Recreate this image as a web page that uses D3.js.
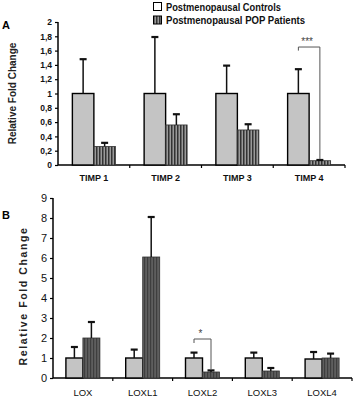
<!DOCTYPE html>
<html>
<head>
<meta charset="utf-8">
<script src="https://cdn.jsdelivr.net/npm/d3@7"></script>
<style>
  html, body { margin: 0; padding: 0; background: #fff; }
  svg { display: block; font-family: "Liberation Sans", Arial, sans-serif; }
</style>
</head>
<body>
<svg id="chart" width="357" height="411"></svg>
<script>
// panel A: TIMP expression
const timpLabels = ['TIMP 1', 'TIMP 2', 'TIMP 3', 'TIMP 4'];
const timpControl = [1, 1, 1, 1];
const timpControlErr = [0.48, 0.79, 0.39, 0.34];
const timpPatient = [0.26, 0.56, 0.49, 0.06];
const timpPatientErr = [0.05, 0.15, 0.08, 0.01];
const timpTicks = [0, 0.2, 0.4, 0.6, 0.8, 1, 1.2, 1.4, 1.6, 1.8, 2];

// panel B: LOX family expression
const loxLabels = ['LOX', 'LOXL1', 'LOXL2', 'LOXL3', 'LOXL4'];
const loxControl = [1, 1, 1, 1, 0.95];
const loxControlErr = [0.55, 0.42, 0.27, 0.27, 0.35];
const loxPatient = [2.0, 6.05, 0.3, 0.35, 1.0];
const loxPatientErr = [0.8, 2.0, 0.08, 0.15, 0.22];
const loxTicks = [0, 1, 2, 3, 4, 5, 6, 7, 8, 9];

const legendLabels = ['Postmenopausal Controls', 'Postmenopausal POP Patients'];

const svg = d3.select('#chart');
const defs = svg.append('defs');

function stripes(id, bg, fg, w) {
  const p = defs.append('pattern').attr('id', id).attr('patternUnits', 'userSpaceOnUse')
    .attr('width', 3).attr('height', 3);
  p.append('rect').attr('width', 3).attr('height', 3).attr('fill', bg);
  p.append('rect').attr('width', w).attr('height', 3).attr('fill', fg);
}
stripes('stripeA', '#9a9a9a', '#333', 1.5);
stripes('stripeB', '#5e5e5e', '#3e3e3e', 1.2);

function panel(cfg) {
  const x = d3.scaleBand().domain(cfg.labels).range([cfg.x0, cfg.x1]);
  const y = d3.scaleLinear().domain([0, cfg.max]).range([cfg.y0, cfg.y1]);
  const g = svg.append('g');
  const bw = cfg.barW;

  const yAxis = g.append('g').attr('transform', `translate(${cfg.x0},0)`)
    .call(d3.axisLeft(y).tickValues(cfg.ticks).tickSize(3).tickPadding(3)
      .tickFormat(d => String(d).replace('.', ',')));
  yAxis.select('.domain').attr('stroke-width', 1.5).attr('d', `M0,${cfg.y0}V${cfg.y1}`);
  yAxis.selectAll('.tick line').attr('stroke-width', 1.2);
  yAxis.selectAll('text').attr('font-size', cfg.tickSize).attr('font-weight', cfg.tickWeight).attr('fill', '#111');

  const xAxis = g.append('g').attr('transform', `translate(0,${cfg.y0})`)
    .call(d3.axisBottom(x).tickSize(0).tickPadding(cfg.xPad));
  xAxis.select('.domain').attr('stroke-width', 1.5).attr('d', `M${cfg.x0},0H${cfg.x1}`);
  xAxis.selectAll('text').attr('font-size', cfg.xSize).attr('font-weight', cfg.tickWeight).attr('fill', '#111');
  // separator ticks between groups
  g.selectAll('.sep').data(cfg.labels).enter().append('line')
    .attr('x1', d => x(d) + x.bandwidth()).attr('x2', d => x(d) + x.bandwidth())
    .attr('y1', cfg.y0).attr('y2', cfg.y0 + 3).attr('stroke', '#000').attr('stroke-width', 1.2);

  const series = [
    { vals: cfg.control, err: cfg.controlErr, fill: '#c4c4c4', stroke: '#000', off: -bw, sw: 1.4 },
    { vals: cfg.patient, err: cfg.patientErr, fill: cfg.patFill, stroke: '#333', off: 0, sw: 0.8 }
  ];
  series.forEach(s => {
    const cx = (d, i) => x(cfg.labels[i]) + x.bandwidth() / 2 + s.off;
    g.selectAll(null).data(s.vals).enter().append('rect')
      .attr('x', cx).attr('y', d => y(d)).attr('width', bw).attr('height', d => cfg.y0 - y(d))
      .attr('fill', s.fill).attr('stroke', s.stroke).attr('stroke-width', s.sw);
    const eg = g.selectAll(null).data(s.vals).enter().append('g');
    eg.append('line')
      .attr('x1', (d, i) => cx(d, i) + bw / 2).attr('x2', (d, i) => cx(d, i) + bw / 2)
      .attr('y1', d => y(d)).attr('y2', (d, i) => y(d + s.err[i]))
      .attr('stroke', '#111').attr('stroke-width', 1.5);
    eg.append('line')
      .attr('x1', (d, i) => cx(d, i) + bw / 2 - 3.5).attr('x2', (d, i) => cx(d, i) + bw / 2 + 3.5)
      .attr('y1', (d, i) => y(d + s.err[i])).attr('y2', (d, i) => y(d + s.err[i]))
      .attr('stroke', '#111').attr('stroke-width', 2.2);
  });

  // significance bracket
  const sig = cfg.sig;
  const lx = x(cfg.labels[sig.i]) + x.bandwidth() / 2 - bw / 2;
  const rx = lx + bw;
  g.append('path')
    .attr('d', `M${lx},${y(sig.left)}V${y(sig.top)}H${rx}V${y(sig.right)}`)
    .attr('fill', 'none').attr('stroke', '#555').attr('stroke-width', 1);
  g.append('text').attr('x', (lx + rx) / 2 - 2).attr('y', y(sig.top) - 2)
    .attr('text-anchor', 'middle').attr('font-size', 10).attr('fill', '#444').text(sig.mark);

  // y title
  g.append('text')
    .attr('transform', `translate(${cfg.titleX},${(cfg.y0 + cfg.y1) / 2 + cfg.titleDy}) rotate(-90)`)
    .attr('text-anchor', 'middle').attr('font-size', cfg.titleSize).attr('font-weight', 'bold')
    .attr('letter-spacing', cfg.titleSpacing).attr('fill', '#222').text('Relative Fold Change');

  g.append('text').attr('x', 2).attr('y', cfg.letterY).attr('font-size', 11)
    .attr('font-weight', 'bold').text(cfg.letter);
}

panel({
  labels: timpLabels, control: timpControl, controlErr: timpControlErr,
  patient: timpPatient, patientErr: timpPatientErr, ticks: timpTicks, max: 2,
  x0: 58, x1: 345, y0: 165, y1: 22, barW: 21.5, patFill: 'url(#stripeA)',
  tickSize: 8.5, tickWeight: 'bold', xSize: 9, xPad: 10,
  sig: { i: 3, left: 1.6, top: 1.65, right: 0.08, mark: '***' },
  titleX: 16, titleDy: 0, titleSize: 10, titleSpacing: 0,
  letter: 'A', letterY: 29
});

panel({
  labels: loxLabels, control: loxControl, controlErr: loxControlErr,
  patient: loxPatient, patientErr: loxPatientErr, ticks: loxTicks, max: 9,
  x0: 53, x1: 352, y0: 378, y1: 198, barW: 17, patFill: 'url(#stripeB)',
  tickSize: 11, tickWeight: 'normal', xSize: 9.5, xPad: 11,
  sig: { i: 2, left: 1.75, top: 1.95, right: 0.45, mark: '*' },
  titleX: 27, titleDy: 8, titleSize: 10.5, titleSpacing: 1.6,
  letter: 'B', letterY: 219
});

// legend
const lg = svg.append('g').attr('transform', 'translate(153,2)');
legendLabels.forEach((t, i) => {
  lg.append('rect').attr('x', 0.5).attr('y', i * 13.5 + 0.5).attr('width', 8).attr('height', 8)
    .attr('fill', i ? 'url(#stripeA)' : '#fff').attr('stroke', '#000').attr('stroke-width', 1);
  lg.append('text').attr('x', 13).attr('y', i * 13.5 + 8.5).attr('font-size', 11.5)
    .attr('font-weight', 'bold').attr('font-family', '"Liberation Sans Narrow", "Arial Narrow", sans-serif')
    .attr('textLength', i ? 139 : 115).attr('lengthAdjust', 'spacingAndGlyphs').attr('fill', '#111').text(t);
});
</script>
</body>
</html>
